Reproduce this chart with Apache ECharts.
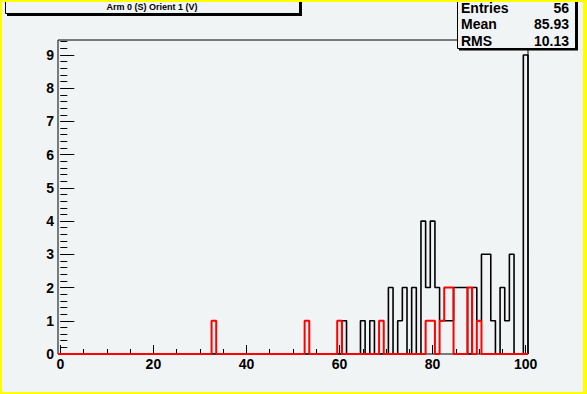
<!DOCTYPE html>
<html>
<head>
<meta charset="utf-8">
<script src="https://cdn.jsdelivr.net/npm/echarts@6/dist/echarts.min.js"></script>
<style>
html,body{margin:0;padding:0;background:#f1f4f5;}
#chart{width:587px;height:394px;}
</style>
</head>
<body>
<div id="chart"></div>
<script>
// ---- data ----
const titleText = "Arm 0 (S) Orient 1 (V)";
const xMajorTicks = [0, 20, 40, 60, 80, 100];
const yMajorTicks = [0, 1, 2, 3, 4, 5, 6, 7, 8, 9];
const blackBins   = [61, 65, 67, 71, 73, 74, 76, 78, 79, 80, 81, 82, 83, 84, 85, 86, 87, 89, 90, 91, 92, 93, 95, 96, 97, 100];
const blackCounts = [ 1,  1,  1,  2,  1,  2,  2,  4,  2,  4,  2,  1,  1,  1,  2,  2,  2,  2,  1,  3,  3,  1,  2,  1,  3,   9];
const redBins     = [33, 53, 60, 69, 79, 80, 82, 83, 84, 88, 90];
const redCounts   = [ 1,  1,  1,  1,  1,  1,  1,  2,  2,  2,  1];
const statNames  = ["Entries", "Mean", "RMS"];
const statValues = ["56", "85.93", "10.13"];
const xMin = -0.5, xMax = 100.5, nBins = 101, yMax = 9.45;

// build step outline (bin edges) from bins/counts
function stepData(bins, counts) {
  const full = new Array(nBins).fill(0);
  bins.forEach((b, i) => { full[b] = counts[i]; });
  const pts = [[xMin, 0]];
  for (let v = 0; v < nBins; v++) pts.push([v + 0.5, full[v]]);
  pts.push([xMax, 0]);
  return pts;
}
const xMinor = [];
for (let v = 0; v <= 100; v += 5) xMinor.push(v);
const yMinor = [];
for (let k = 0; k <= 47; k++) yMinor.push(Math.round(k * 0.2 * 10) / 10);

const BG = '#f1f4f5';
const FONT = '"Liberation Sans", Arial, Helvetica, sans-serif';

const chart = echarts.init(document.getElementById('chart'), null, {renderer: 'svg'});
const option = {
  animation: false,
  backgroundColor: BG,
  grid: {left: 58, right: 59, top: 40, bottom: 40, show: true, borderColor: '#000', borderWidth: 1, backgroundColor: 'transparent'},
  xAxis: [
    {type: 'value', min: xMin, max: xMax, position: 'bottom',
     axisLine: {show: false}, splitLine: {show: false},
     axisTick: {show: true, inside: true, length: 9, customValues: xMajorTicks, lineStyle: {color: '#000', width: 1}},
     axisLabel: {show: true, customValues: xMajorTicks, margin: 3, color: '#000', fontFamily: FONT, fontWeight: 'bold', fontSize: 14}},
    {type: 'value', min: xMin, max: xMax, position: 'bottom',
     axisLine: {show: false}, splitLine: {show: false},
     axisTick: {show: true, inside: true, length: 5, customValues: xMinor, lineStyle: {color: '#000', width: 1}},
     axisLabel: {show: false}}
  ],
  yAxis: [
    {type: 'value', min: 0, max: yMax, position: 'left',
     axisLine: {show: false}, splitLine: {show: false},
     axisTick: {show: true, inside: true, length: 14, customValues: yMajorTicks, lineStyle: {color: '#000', width: 1}},
     axisLabel: {show: true, customValues: yMajorTicks, margin: 4, color: '#000', fontFamily: FONT, fontWeight: 'bold', fontSize: 14}},
    {type: 'value', min: 0, max: yMax, position: 'left',
     axisLine: {show: false}, splitLine: {show: false},
     axisTick: {show: true, inside: true, length: 7, customValues: yMinor, lineStyle: {color: '#000', width: 1}},
     axisLabel: {show: false}}
  ],
  series: [
    {type: 'line', xAxisIndex: 0, yAxisIndex: 0, step: 'start', symbol: 'none', z: 3,
     data: stepData(blackBins, blackCounts), lineStyle: {color: '#000', width: 1.6}},
    {type: 'line', xAxisIndex: 0, yAxisIndex: 0, step: 'start', symbol: 'none', z: 4,
     data: stepData(redBins, redCounts), lineStyle: {color: '#ff0000', width: 2}}
  ],
  graphic: [
    // yellow canvas border
    {type: 'rect', shape: {x: 0, y: 0, width: 587, height: 2}, style: {fill: '#ffff00'}, z: 100, silent: true},
    {type: 'rect', shape: {x: 0, y: 0, width: 2, height: 394}, style: {fill: '#ffff00'}, z: 100, silent: true},
    {type: 'rect', shape: {x: 583, y: 0, width: 4, height: 394}, style: {fill: '#ffff00'}, z: 100, silent: true},
    {type: 'rect', shape: {x: 0, y: 392, width: 587, height: 2}, style: {fill: '#ffff00'}, z: 100, silent: true},
    // title box
    {type: 'rect', shape: {x: 7, y: 0, width: 295, height: 16}, style: {fill: '#000'}, z: 90, silent: true},
    {type: 'rect', shape: {x: 5.5, y: -2, width: 294, height: 15.5}, style: {fill: BG, stroke: '#000', lineWidth: 1}, z: 91, silent: true},
    {type: 'text', x: 152, y: 6.5, z: 92, silent: true,
     style: {text: titleText, fill: '#000', font: 'bold 9px ' + FONT, align: 'center', verticalAlign: 'middle'}},
    // stats box
    {type: 'rect', shape: {x: 459, y: 0, width: 119, height: 50.5}, style: {fill: '#000'}, z: 90, silent: true},
    {type: 'rect', shape: {x: 457.5, y: -2, width: 118, height: 50.5}, style: {fill: BG, stroke: '#000', lineWidth: 1}, z: 91, silent: true},
    ...statNames.map((n, i) => ({type: 'text', x: 461, y: 7.5 + i * 16.5, z: 92, silent: true,
      style: {text: n, fill: '#000', font: 'bold 14px ' + FONT, align: 'left', verticalAlign: 'middle'}})),
    ...statValues.map((v, i) => ({type: 'text', x: 569, y: 7.5 + i * 16.5, z: 92, silent: true,
      style: {text: v, fill: '#000', font: 'bold 14px ' + FONT, align: 'right', verticalAlign: 'middle'}}))
  ]
};
chart.setOption(option);
</script>
</body>
</html>
